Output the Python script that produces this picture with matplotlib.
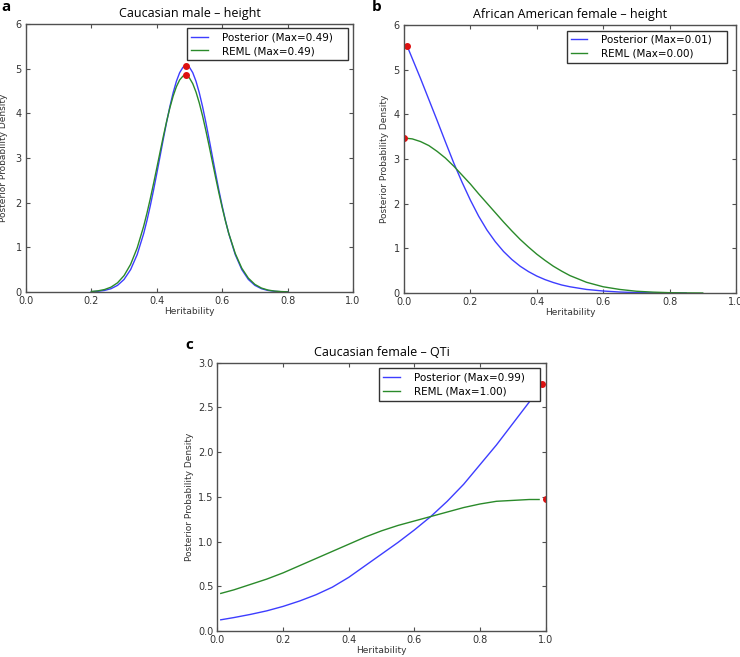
import numpy as np
import matplotlib.pyplot as plt

# panel a: Caucasian male - height
a_x = [0.20, 0.22, 0.24, 0.26, 0.28, 0.30, 0.32, 0.34, 0.36, 0.37, 0.38, 0.39, 0.40, 0.41, 0.42, 0.43,
       0.44, 0.45, 0.46, 0.47, 0.48, 0.49, 0.50, 0.51, 0.52, 0.53, 0.54, 0.55, 0.56, 0.57, 0.58, 0.59,
       0.60, 0.61, 0.62, 0.64, 0.66, 0.68, 0.70, 0.72, 0.74, 0.76, 0.78, 0.80]
a_post = [0.006, 0.015, 0.034, 0.073, 0.148, 0.281, 0.501, 0.836, 1.309, 1.600, 1.924, 2.276, 2.650, 3.036, 3.424, 3.800,
          4.150, 4.460, 4.717, 4.910, 5.030, 5.070, 5.030, 4.910, 4.717, 4.460, 4.150, 3.800, 3.424, 3.036, 2.650, 2.276,
          1.924, 1.600, 1.309, 0.836, 0.501, 0.281, 0.148, 0.073, 0.034, 0.015, 0.006, 0.002]
a_reml = [0.011, 0.025, 0.054, 0.108, 0.205, 0.367, 0.619, 0.984, 1.474, 1.765, 2.083, 2.422, 2.774, 3.131, 3.482, 3.816,
          4.120, 4.384, 4.596, 4.748, 4.833, 4.850, 4.790, 4.664, 4.475, 4.231, 3.942, 3.618, 3.273, 2.916, 2.561, 2.216,
          1.890, 1.588, 1.314, 0.861, 0.532, 0.310, 0.170, 0.088, 0.043, 0.020, 0.009, 0.003]
a_max = [(0.49, 5.07), (0.49, 4.85)]

# panel b: African American female - height
b_post_x = [0.01, 0.025, 0.05, 0.075, 0.10, 0.125, 0.15, 0.175, 0.20, 0.225, 0.25, 0.275, 0.30, 0.325, 0.35,
            0.375, 0.40, 0.425, 0.45, 0.475, 0.50, 0.55, 0.60, 0.65, 0.70, 0.75, 0.80, 0.85]
b_post = [5.52, 5.25, 4.80, 4.33, 3.86, 3.38, 2.91, 2.48, 2.08, 1.72, 1.41, 1.15, 0.93, 0.75, 0.60,
          0.48, 0.38, 0.30, 0.235, 0.18, 0.14, 0.08, 0.045, 0.022, 0.010, 0.004, 0.001, 0.0]
b_reml_x = [0.0, 0.025, 0.05, 0.075, 0.10, 0.125, 0.15, 0.175, 0.20, 0.225, 0.25, 0.275, 0.30, 0.325, 0.35,
            0.375, 0.40, 0.425, 0.45, 0.475, 0.50, 0.55, 0.60, 0.65, 0.70, 0.75, 0.80, 0.85, 0.90]
b_reml = [3.47, 3.45, 3.39, 3.30, 3.17, 3.02, 2.84, 2.64, 2.44, 2.22, 2.01, 1.80, 1.59, 1.39, 1.20,
          1.03, 0.87, 0.73, 0.60, 0.49, 0.39, 0.24, 0.14, 0.08, 0.04, 0.02, 0.008, 0.003, 0.001]
b_max = [(0.01, 5.52), (0.0, 3.47)]

# panel c: Caucasian female - QTi
c_x = [0.01, 0.05, 0.10, 0.15, 0.20, 0.25, 0.30, 0.35, 0.40, 0.45, 0.50, 0.55, 0.60, 0.65, 0.70,
       0.75, 0.80, 0.85, 0.90, 0.95, 0.98]
c_post = [0.125, 0.15, 0.185, 0.225, 0.275, 0.335, 0.405, 0.49, 0.60, 0.73, 0.86, 0.99, 1.13, 1.28, 1.45,
          1.64, 1.86, 2.08, 2.32, 2.56, 2.72]
c_reml = [0.42, 0.46, 0.52, 0.58, 0.65, 0.73, 0.81, 0.89, 0.97, 1.05, 1.12, 1.18, 1.23, 1.28, 1.33,
          1.38, 1.42, 1.45, 1.46, 1.47, 1.47]
c_max = [(0.99, 2.76), (1.0, 1.475)]

blue = '#3d3dff'
green = '#2a8a2a'
edge = '#505050'

fig = plt.figure(figsize=(7.4, 6.57), dpi=100)

def panel(rect, tag, title, tagpos, xs1, ys1, xs2, ys2, maxes, labels, ylim, yticks, ylab_x, legbox):
    ax = fig.add_axes(rect)
    ax.plot(xs1, ys1, color=blue, lw=1, label=labels[0])
    ax.plot(xs2, ys2, color=green, lw=1, label=labels[1])
    for mx, my in maxes:
        ax.plot(mx, my, 'o', color='#dd1111', ms=4, mec='#dd1111')
    ax.set_xlim(0, 1)
    ax.set_ylim(*ylim)
    ax.set_xticks([0.0, 0.2, 0.4, 0.6, 0.8, 1.0])
    ax.set_yticks(yticks)
    ax.tick_params(direction='in', top=True, right=True, length=3, width=0.8,
                   labelsize=7, pad=3, color=edge, labelcolor='#333333')
    for s in ax.spines.values():
        s.set_color(edge)
        s.set_linewidth(1.0)
    ax.set_xlabel('Heritability', fontsize=6.5, color='#333333')
    ax.set_ylabel('Posterior Probability Density', fontsize=6.5, color='#333333')
    ax.xaxis.set_label_coords(0.5, -0.055)
    ax.yaxis.set_label_coords(ylab_x, 0.5)
    ax.set_title(title, fontsize=9, family='Open Sans', pad=5)
    leg = ax.legend(loc='upper left', bbox_to_anchor=legbox, mode='expand', fontsize=7.5,
                    fancybox=False, framealpha=1, handlelength=1.6, handletextpad=1.3,
                    borderaxespad=0, borderpad=0.4, labelspacing=0.38)
    leg.get_frame().set_edgecolor('#333333')
    leg.get_frame().set_linewidth(1.0)
    fig.text(tagpos[0], tagpos[1], tag, fontsize=11, fontweight='bold', family='Open Sans',
             ha='left', va='top')
    return ax

panel([0.0351, 0.5556, 0.4419, 0.4079], 'a', 'Caucasian male \u2013 height', (0.002, 1.0),
      a_x, a_post, a_x, a_reml, a_max, ['Posterior (Max=0.49)', 'REML (Max=0.49)'],
      (0, 6), [0, 1, 2, 3, 4, 5, 6], -0.055, (0.493, 0.0, 0.492, 0.985))

panel([0.5459, 0.554, 0.4486, 0.408], 'b', 'African American female \u2013 height', (0.503, 1.0),
      b_post_x, b_post, b_reml_x, b_reml, b_max, ['Posterior (Max=0.01)', 'REML (Max=0.00)'],
      (0, 6), [0, 1, 2, 3, 4, 5, 6], -0.045, (0.490, 0.0, 0.484, 0.979))

panel([0.2939, 0.0396, 0.4435, 0.4084], 'c', 'Caucasian female \u2013 QTi', (0.251, 0.486),
      c_x, c_post, c_x, c_reml, c_max, ['Posterior (Max=0.99)', 'REML (Max=1.00)'],
      (0, 3.0), [0.0, 0.5, 1.0, 1.5, 2.0, 2.5, 3.0], -0.072, (0.493, 0.0, 0.490, 0.979))

fig.axes[2].set_yticklabels(['0.0', '0.5', '1.0', '1.5', '2.0', '2.5', '3.0'])

fig.savefig('out.png', dpi=100, facecolor='white')
